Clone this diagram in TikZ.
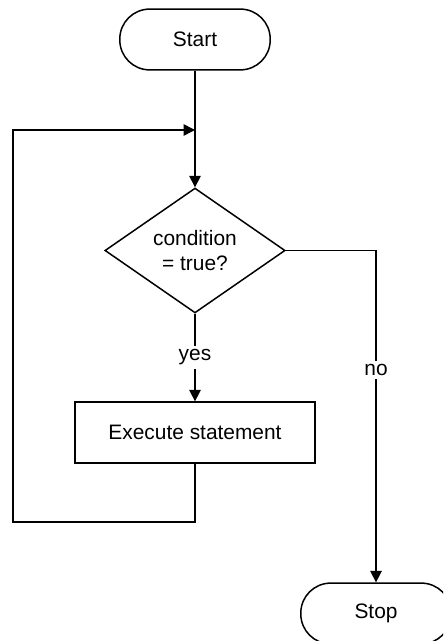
\documentclass[tikz,border=0pt]{standalone}
\usepackage{fontspec}
\setmainfont{Liberation Sans}
\usetikzlibrary{shapes.geometric,arrows.meta}

\tikzset{
  terminal/.style={draw, rounded corners=17pt, minimum width=85.6pt, minimum height=34.6pt},
  decision/.style={draw, diamond, inner sep=0pt, minimum width=102.6pt, minimum height=68pt, align=center},
  process/.style={draw, minimum width=136.6pt, minimum height=34.6pt},
  flow/.style={-{Triangle[length=6.5pt,width=6.5pt]}},
  lbl/.style={fill=white, inner sep=2pt}
}

\begin{document}
\begin{tikzpicture}[x=0.02cm, y=-0.02cm, line width=0.85pt,
  font=\fontsize{11.9}{14.7}\selectfont]
\fill[white] (0,0) rectangle (443,641);
\clip (0,0) rectangle (443,641);
% nodes
\node[terminal] (start) at (195,39.5) {Start};
\node[decision] (cond) at (195,250.5) {condition\\= true?};
\node[process] (exec) at (195,432.5) {Execute statement};
\node[terminal] (stop) at (376,613.5) {Stop};
% loop points
\coordinate (join) at (195,130);
\coordinate (loopA) at (195,522);
\coordinate (loopB) at (13,522);
\coordinate (loopC) at (13,130);
% connectors
\draw[flow] (start) -- (cond);
\draw[flow] (cond) -- node[lbl] {yes} (exec);
\draw[flow] (exec) -- (loopA) -- (loopB) -- (loopC) -- (join);
\draw[flow] (cond.east) -| node[lbl, pos=0.68] {no} (stop);
\end{tikzpicture}
\end{document}
